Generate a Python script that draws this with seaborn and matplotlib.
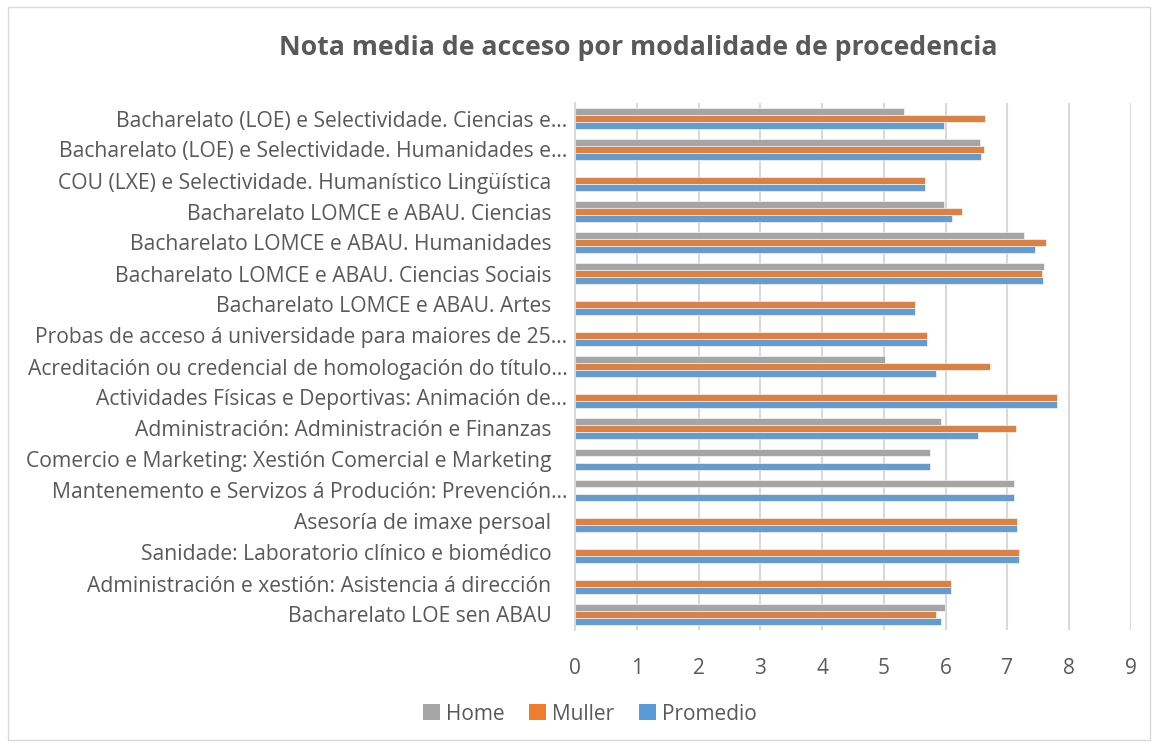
import numpy as np
import pandas as pd
import matplotlib
matplotlib.use("Agg")
import matplotlib.pyplot as plt
import matplotlib.transforms as mtransforms
import seaborn as sns
from matplotlib.patches import Rectangle, Patch

categories = [
    "Bacharelato (LOE) e Selectividade. Ciencias e…",
    "Bacharelato (LOE) e Selectividade. Humanidades e…",
    "COU (LXE) e Selectividade. Humanístico Lingüística",
    "Bacharelato LOMCE e ABAU. Ciencias",
    "Bacharelato LOMCE e ABAU. Humanidades",
    "Bacharelato LOMCE e ABAU. Ciencias Sociais",
    "Bacharelato LOMCE e ABAU. Artes",
    "Probas de acceso á universidade para maiores de 25…",
    "Acreditación ou credencial de homologación do título…",
    "Actividades Físicas e Deportivas: Animación de…",
    "Administración: Administración e Finanzas",
    "Comercio e Marketing: Xestión Comercial e Marketing",
    "Mantenemento e Servizos á Produción: Prevención…",
    "Asesoría de imaxe persoal",
    "Sanidade: Laboratorio clínico e biomédico",
    "Administración e xestión: Asistencia á dirección",
    "Bacharelato LOE sen ABAU",
]
home = [5.33, 6.56, np.nan, 5.97, 7.27, 7.59, np.nan, np.nan, 5.01, np.nan,
        5.92, 5.75, 7.10, np.nan, np.nan, np.nan, 5.99]
muller = [6.63, 6.62, 5.66, 6.26, 7.62, 7.56, 5.50, 5.69, 6.71, 7.80,
          7.14, np.nan, np.nan, 7.15, 7.19, 6.09, 5.84]
promedio = [5.98, 6.58, 5.66, 6.11, 7.44, 7.57, 5.50, 5.69, 5.85, 7.80,
            6.53, 5.75, 7.10, 7.15, 7.19, 6.09, 5.92]
series = ["Home", "Muller", "Promedio"]
colors = ["#A5A5A5", "#ED7D31", "#5B9BD5"]
xticks = list(range(0, 10))

df = pd.DataFrame({"Categoria": categories, "Home": home, "Muller": muller, "Promedio": promedio})
long = df.melt(id_vars="Categoria", value_vars=series, var_name="Serie", value_name="Nota")

sns.set_style("white")
plt.rcParams["font.family"] = ["Open Sans", "DejaVu Sans"]
text_color = "#595959"

fig = plt.figure(figsize=(11.55, 7.47), dpi=100)
W, H = 1155, 747
ax = fig.add_axes([575 / W, 1 - 630 / H, (1131 - 575) / W, (630 - 103) / H])

sns.barplot(data=long, x="Nota", y="Categoria", hue="Serie", order=categories,
            hue_order=series, palette=colors, orient="h", width=0.66,
            ax=ax, edgecolor="white", linewidth=0.4, legend=False)

ax.set_xlim(0, 9)
ax.set_xticks(xticks)
ax.set_xticklabels([str(t) for t in xticks])
ax.xaxis.grid(True, color="#D9D9D9", linewidth=1.5)
ax.set_axisbelow(True)
for s in ["top", "right", "bottom"]:
    ax.spines[s].set_visible(False)
ax.spines["left"].set_color("#D9D9D9")
ax.spines["left"].set_linewidth(1.5)
ax.set_xlabel("")
ax.set_ylabel("")
ax.tick_params(axis="both", length=0, colors=text_color)
ax.tick_params(axis="x", pad=20, labelsize=15)
ax.tick_params(axis="y", pad=17, labelsize=15.2)

# truncated labels (ending with an ellipsis) sit a little further right, as in the source
shift = mtransforms.ScaledTranslation(16 / 100, 0, fig.dpi_scale_trans)
for lab in ax.get_yticklabels():
    if lab.get_text().endswith("…"):
        lab.set_transform(lab.get_transform() + shift)

fig.text(638 / W, 1 - 48 / H, "Nota media de acceso por modalidade de procedencia",
         ha="center", va="center", fontsize=19.2, fontweight="bold", color=text_color)

handles = [Patch(facecolor=c, edgecolor="none", label=s) for s, c in zip(series, colors)]
fig.legend(handles=handles, loc="center", bbox_to_anchor=(590 / W, 1 - 714 / H), ncol=3,
           frameon=False, fontsize=15, handlelength=0.8, handleheight=0.8,
           handletextpad=0.3, columnspacing=1.2, labelcolor=text_color)

fig.patches.append(Rectangle((8 / W, 7 / H), (1150 - 8) / W, (740 - 7) / H,
                             transform=fig.transFigure, fill=False,
                             edgecolor="#D9D9D9", linewidth=1))

fig.savefig("out.png", dpi=100)
